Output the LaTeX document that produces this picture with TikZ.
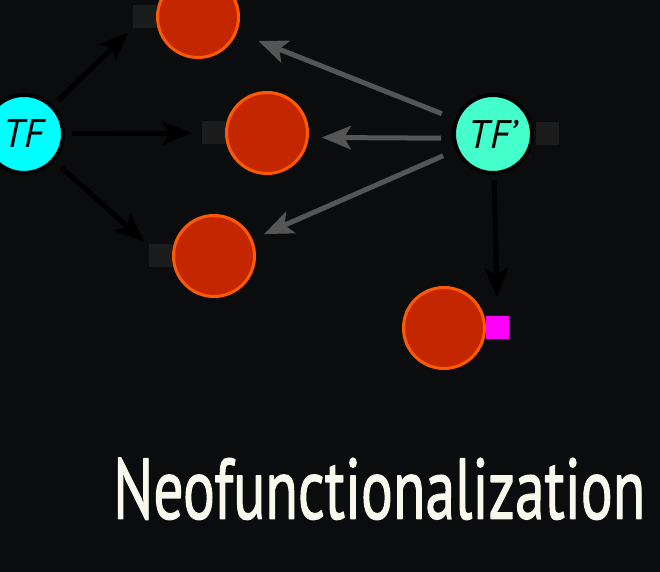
\documentclass[tikz,border=0pt]{standalone}
\usepackage{fontspec}
\setmainfont{PT Sans}
\newfontfamily\titlefont[FakeBold=1.6]{PT Sans}
\usetikzlibrary{arrows.meta,positioning}
\definecolor{bgdark}{HTML}{0A0C0D}
\definecolor{tfcyan}{HTML}{00FFFF}
\definecolor{tfmint}{HTML}{44FFCC}
\definecolor{genered}{HTML}{C42600}
\definecolor{generim}{HTML}{FF5A00}
\definecolor{boxgray}{HTML}{1C1C1C}
\definecolor{mutpink}{HTML}{FF00FF}
\definecolor{oldgray}{HTML}{555555}
\definecolor{titlecol}{HTML}{F8F8EC}
\tikzset{
  tfnode/.style={circle,draw=black,line width=0.12cm,minimum size=2.34cm,inner sep=0pt,font=\fontsize{34}{36}\selectfont\itshape},
  gene/.style={circle,draw=generim,fill=genered,line width=0.09cm,minimum size=2.43cm,inner sep=0pt},
  site/.style={rectangle,fill=boxgray,minimum size=0.69cm,inner sep=0pt},
  act/.style={->,line width=0.15cm,black},
  old/.style={->,line width=0.15cm,oldgray},
}
\newcommand{\neoword}{\resizebox{15.96cm}{1.83cm}{\titlefont Neofunctionalization}}

\begin{document}
\begin{tikzpicture}[x=0.03cm,y=-0.03cm,>={Stealth[length=0.87cm,width=0.7cm,inset=0.2cm]},line join=round]
\useasboundingbox (0,0) rectangle (660,572);
\clip (0,0) rectangle (660,572);
\fill[bgdark] (0,0) rectangle (660,572);
% --- transcription factors
\node[tfnode,fill=tfcyan] (tf) at (24,134) {TF};
\node[tfnode,fill=tfmint] (tfp) at (493,134) {TF’};
\node[site,right=0.06cm of tfp] (sp) {};
% --- target genes with binding sites
\node[gene] (r1) at (198,17) {};
\node[gene] (r2) at (267,133) {};
\node[gene] (r3) at (214,256) {};
\node[gene] (r4) at (444,328) {};
\node[site,left=0pt of r1] (s1) {};
\node[site,left=0pt of r2] (s2) {};
\node[site,left=0pt of r3] (s3) {};
\node[site,fill=mutpink,right=0pt of r4] (mut) {};
% --- regulation by TF
\draw[act,shorten <=0.21cm,shorten >=0.18cm] (tf) -- (s1);
\draw[act,shorten <=0.21cm,shorten >=0.3cm] (tf) -- (s2);
\draw[act,shorten <=0.27cm,shorten >=0.18cm] (tf) -- (s3);
% --- lost targets of TF'
\draw[old,shorten <=0.42cm,shorten >=0.69cm] (tfp) -- (r1);
\draw[old,shorten <=0.33cm,shorten >=0.39cm] (tfp.186) -- (r2.354);
\draw[old,shorten <=0.4cm,shorten >=0.38cm] (tfp) -- (r3);
% --- new target
\draw[act,shorten <=0.15cm,shorten >=0.57cm] (tfp) -- (mut);
% --- title
\node[anchor=south west,inner sep=0pt,text=titlecol] (title) at (113,520) {\neoword};
\end{tikzpicture}
\end{document}
